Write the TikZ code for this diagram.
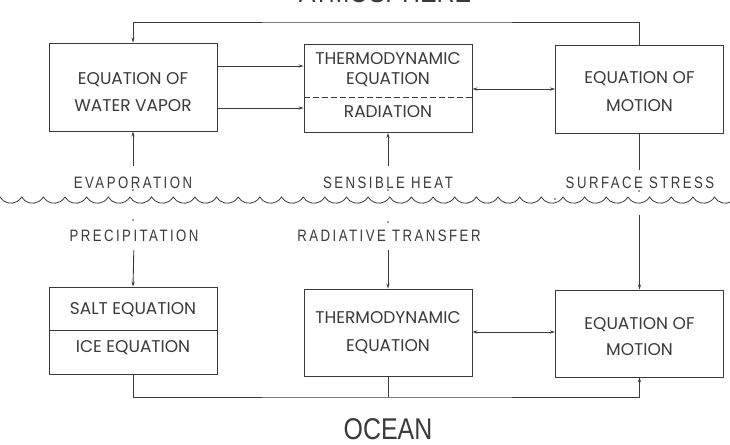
\documentclass[tikz,border=0pt]{standalone}
\usepackage{fontspec}
\usetikzlibrary{arrows.meta}
\newfontfamily\boxfont{Poppins}
\newfontfamily\lblfont[FakeStretch=0.8,LetterSpace=15]{Liberation Sans}
\newfontfamily\bigfont[FakeStretch=0.83]{Liberation Sans}
\definecolor{ink}{HTML}{3A3A3A}
\begin{document}
\begin{tikzpicture}[x=1pt,y=-1pt,
  line width=0.9pt, draw=ink, text=ink,
  >={Stealth[length=5pt,width=3.2pt]},
  eqbox/.style={draw=ink, minimum width=168pt, minimum height=88pt, inner sep=0pt},
  boxtxt/.style={font=\boxfont\fontsize{17}{27}\selectfont, align=center, inner sep=0pt},
  lbl/.style={font=\lblfont\fontsize{16.5}{18}\selectfont, inner sep=0pt},
  big/.style={font=\bigfont\fontsize{30}{34}\selectfont, inner sep=0pt}]
\useasboundingbox (0,0) rectangle (730,444);
\fill[white] (0,0) rectangle (730,444);

% title (clipped at top)
\node[big, anchor=base] (atm) at (385,3) {ATMOSPHERE};

% atmosphere boxes
\node[eqbox] (wv) at (133,87) {};
\node[boxtxt] (wvt) at (133,92) {EQUATION OF\\WATER VAPOR};
\node[eqbox] (ta) at (388,88.5) {};
\node[boxtxt, font=\boxfont\fontsize{17}{20}\selectfont] (tat) at (388,70) {THERMODYNAMIC\\EQUATION};
\node[boxtxt] (tar) at (388,112) {RADIATION};
\draw[dashed, dash pattern=on 6pt off 3pt] (ta.west |- 0,97) -- (ta.east |- 0,97);
\node[eqbox] (ma) at (639.5,89.5) {};
\node[boxtxt, font=\boxfont\fontsize{17}{28}\selectfont] (mat) at (639.5,92) {EQUATION OF\\MOTION};

% ocean boxes
\node[eqbox, minimum height=87pt] (so) at (133,330.5) {};
\draw (so.west |- 0,330) -- (so.east |- 0,330);
\node[boxtxt] (sot) at (133,310) {SALT EQUATION};
\node[boxtxt] (soi) at (133,348) {ICE EQUATION};
\node[eqbox, minimum height=87pt] (to) at (388,332.5) {};
\node[boxtxt, font=\boxfont\fontsize{17}{28}\selectfont] (tot) at (388,332.5) {THERMODYNAMIC\\EQUATION};
\node[eqbox, minimum height=87pt] (mo) at (639.5,333.5) {};
\node[boxtxt, font=\boxfont\fontsize{17}{26}\selectfont] (mot) at (639.5,337) {EQUATION OF\\MOTION};

% interface labels
\node[lbl] (evap) at (133,183) {EVAPORATION};
\node[lbl] (sens) at (388,183) {SENSIBLE HEAT};
\node[lbl] (stress) at (640,183) {SURFACE STRESS};
\node[lbl] (prec) at (134,236) {PRECIPITATION};
\node[lbl] (radt) at (389,236) {RADIATIVE TRANSFER};

% wavy sea surface (scallops, cusps up)
\draw[line width=0.8pt] (0,197)
  \foreach \i in {0,...,33} { arc[start angle=210, end angle=330, radius=12.5pt] };

% small tick dots
\foreach \p in {(133,190),(133,220),(388,190),(388,222),(639,191),(555,199)}
  \fill[ink] \p circle (0.9pt);

% atmosphere connectors
\coordinate (topc) at (388,22);
\draw[->] (ma.north) |- (topc) -| (wv.north);
\draw[->] (wv.east |- 0,66) -- (ta.west |- 0,66);
\draw[->] (wv.east |- 0,108) -- (ta.west |- 0,108);
\draw[<->] (ta.east |- 0,89) -- (ma.west |- 0,89);
\draw[->, shorten <=11pt] (evap.north) -- (wv.south);
\draw[->, shorten <=11pt] (sens.north) -- (ta.south);
\draw[shorten >=7pt] (ma.south) -- (stress.north -| ma.south);

% ocean connectors
\coordinate (mtop) at (639.5,215);
\draw[->, shorten <=8pt] (prec.south) -- (so.north);
\draw[->, shorten <=8pt] (radt.south -| to.north) -- (to.north);
\draw[->] (mtop) -- (mo.north);
\draw[<->] (to.east |- 0,332) -- (mo.west |- 0,332);
\coordinate (botc) at (388,397);
\draw[->] (so.south) |- (botc) -| (mo.south);
\draw (to.south) -- (botc);

\node[big, anchor=base] (ocean) at (388,439) {OCEAN};
\end{tikzpicture}
\end{document}
